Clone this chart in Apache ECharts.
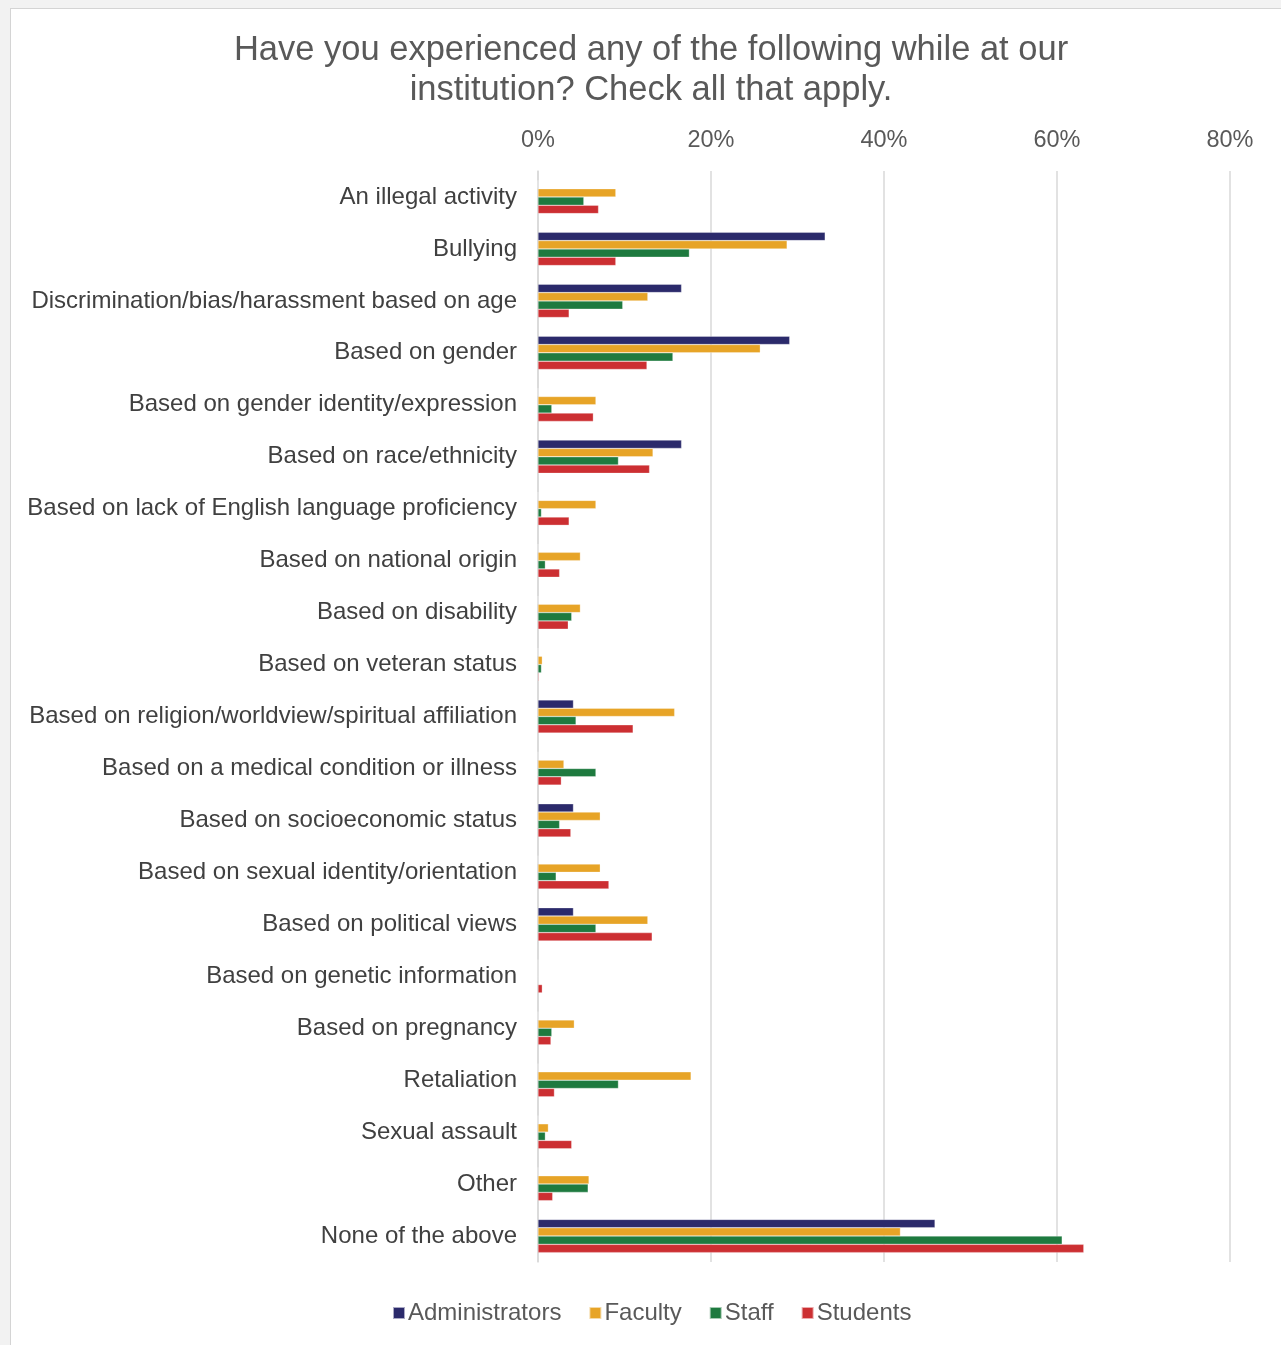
<!DOCTYPE html>
<html>
<head>
<meta charset="utf-8">
<script src="https://cdn.jsdelivr.net/npm/echarts@6/dist/echarts.min.js"></script>
<style>
  html, body { margin: 0; padding: 0; background: #f2f2f2; }
  #frame { position: absolute; left: 10px; top: 8px; width: 1271px; height: 1337px; background: #ffffff; border-left: 1px solid #d4d4d4; border-top: 1px solid #d4d4d4; box-sizing: border-box; }
  #chart { position: absolute; left: 0; top: 0; width: 1281px; height: 1345px; }
</style>
</head>
<body>
<div id="frame"></div>
<div id="chart"></div>
<script>
const titleText = "Have you experienced any of the following while at our\ninstitution? Check all that apply.";
const categories = [
  "An illegal activity",
  "Bullying",
  "Discrimination/bias/harassment based on age",
  "Based on gender",
  "Based on gender identity/expression",
  "Based on race/ethnicity",
  "Based on lack of English language proficiency",
  "Based on national origin",
  "Based on disability",
  "Based on veteran status",
  "Based on religion/worldview/spiritual affiliation",
  "Based on a medical condition or illness",
  "Based on socioeconomic status",
  "Based on sexual identity/orientation",
  "Based on political views",
  "Based on genetic information",
  "Based on pregnancy",
  "Retaliation",
  "Sexual assault",
  "Other",
  "None of the above"
];
const seriesNames = ["Administrators", "Faculty", "Staff", "Students"];
const administrators = [0, 33.2, 16.6, 29.1, 0, 16.6, 0, 0, 0, 0, 4.1, 0, 4.1, 0, 4.1, 0, 0, 0, 0, 0, 45.9];
const faculty        = [9.0, 28.8, 12.7, 25.7, 6.7, 13.3, 6.7, 4.9, 4.9, 0.5, 15.8, 3.0, 7.2, 7.2, 12.7, 0, 4.2, 17.7, 1.2, 5.9, 41.9];
const staff          = [5.3, 17.5, 9.8, 15.6, 1.6, 9.3, 0.4, 0.85, 3.9, 0.4, 4.4, 6.7, 2.5, 2.1, 6.7, 0, 1.6, 9.3, 0.85, 5.8, 60.6];
const students       = [7.0, 9.0, 3.6, 12.6, 6.4, 12.9, 3.6, 2.5, 3.5, 0.1, 11.0, 2.7, 3.8, 8.2, 13.2, 0.5, 1.5, 1.9, 3.9, 1.7, 63.1];
const xTicks = [0, 20, 40, 60, 80];
const colors = ["#2b2a6b", "#e7a427", "#1e7a3f", "#cc2f32"];

const chart = echarts.init(document.getElementById('chart'), null, { renderer: 'canvas' });
const valuesList = [administrators, faculty, staff, students];
const font = "'Liberation Sans', Arial, sans-serif";

chart.setOption({
  backgroundColor: 'transparent',
  animation: false,
  color: colors,
  title: {
    text: titleText,
    left: 646,
    textAlign: 'center',
    top: 25,
    textStyle: { fontFamily: font, fontSize: 34.5, fontWeight: 'normal', color: '#595959', lineHeight: 40 }
  },
  legend: {
    data: seriesNames,
    bottom: 15,
    left: 387,
    itemWidth: 12,
    itemHeight: 12,
    itemGap: 27,
    icon: 'rect',
    textStyle: { fontFamily: font, fontSize: 24, color: '#595959', padding: [0, 0, 0, -2] }
  },
  grid: { left: 538, right: 51, top: 171, bottom: 83, containLabel: false },
  xAxis: {
    type: 'value',
    position: 'top',
    min: xTicks[0],
    max: xTicks[xTicks.length - 1],
    interval: 20,
    axisLine: { show: false },
    axisTick: { show: false },
    splitLine: { show: true, lineStyle: { color: '#d9d9d9', width: 1.5 } },
    axisLabel: { formatter: '{value}%', fontFamily: font, fontSize: 23.5, color: '#595959', margin: 18 }
  },
  yAxis: {
    type: 'category',
    data: categories,
    inverse: true,
    axisLine: { show: true, lineStyle: { color: '#d9d9d9', width: 1.5 } },
    axisTick: { show: false },
    axisLabel: { fontFamily: font, fontSize: 24, color: '#404040', margin: 21 }
  },
  series: seriesNames.map((name, i) => ({
    name: name,
    type: 'bar',
    data: valuesList[i],
    barGap: '0%',
    barCategoryGap: '36%',
    itemStyle: { color: colors[i], borderColor: 'rgba(255,255,255,0.6)', borderWidth: 0.5 }
  }))
});
</script>
</body>
</html>
